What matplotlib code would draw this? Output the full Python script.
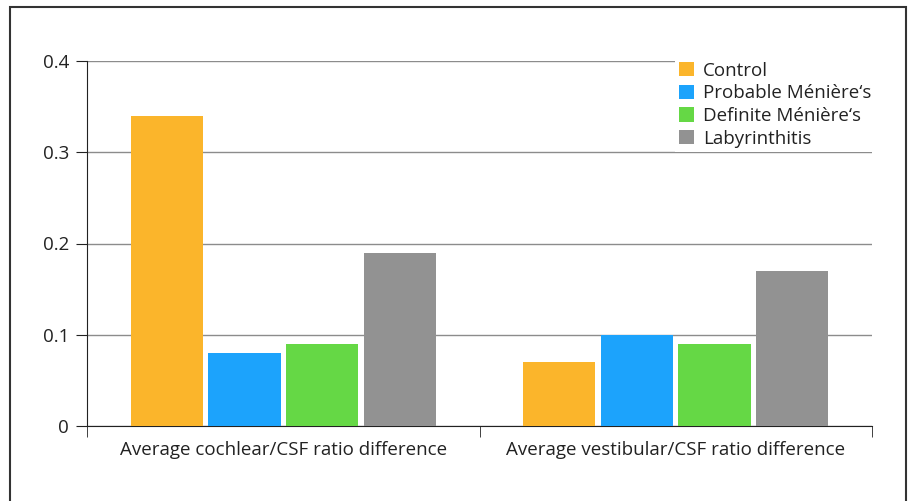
from matplotlib import pyplot as plt
from matplotlib.patches import Rectangle
import numpy as np

plt.rcParams['font.family'] = ['Open Sans', 'DejaVu Sans']

categories = ['Average cochlear/CSF ratio difference', 'Average vestibular/CSF ratio difference']
groups = ['Control', 'Probable Ménière‘s', 'Definite Ménière‘s', 'Labyrinthitis']
control = [0.34, 0.07]
probable = [0.08, 0.10]
definite = [0.09, 0.09]
labyrinthitis = [0.19, 0.17]
colours = ['#FBB52B', '#1CA3FC', '#65D845', '#929292']

fig = plt.figure(figsize=(9.09, 5.01), dpi=100)
ax = fig.add_axes([87 / 909, 75 / 501, 785 / 909, 365 / 501])

# outer frame, open at the bottom
fig.patches.append(Rectangle((10 / 909, -0.1), 896 / 909, 1.1 - 7 / 501,
                             transform=fig.transFigure, fill=False,
                             edgecolor='#333333', linewidth=1.5))

x = np.arange(len(categories))
width = 0.184
step = 0.198
series = [control, probable, definite, labyrinthitis]
for i in range(0, len(series)):
    ax.bar(x + (i - 1.5) * step, series[i], width, color=colours[i],
           label=groups[i], zorder=3)

ax.set_xlim(-0.5, 1.5)
ax.set_ylim(0, 0.4)
ax.set_yticks([0, 0.1, 0.2, 0.3, 0.4])
ax.set_yticklabels(['0', '0.1', '0.2', '0.3', '0.4'])
ax.yaxis.grid(True, color='#8c8c8c', linewidth=1, zorder=0)
ax.set_xticks(x)
ax.set_xticklabels(categories)
ax.set_xticks([-0.5, 0.5, 1.5], minor=True)
ax.tick_params(axis='x', which='major', length=0, pad=11, labelsize=13.5, labelcolor='#222222')
ax.tick_params(axis='x', which='minor', length=8, direction='out', color='#222222')
ax.tick_params(axis='y', length=8, direction='out', pad=5, labelsize=13.5,
               labelcolor='#222222', color='#222222')

for s in ['top', 'right']:
    ax.spines[s].set_visible(False)
for s in ['left', 'bottom']:
    ax.spines[s].set_color('#222222')

leg = ax.legend(loc='upper left', bbox_to_anchor=(675 / 909, 443 / 501),
                bbox_transform=fig.transFigure, frameon=True, fancybox=False,
                edgecolor='white', framealpha=1, fontsize=13.5,
                handlelength=0.8, handleheight=0.8, handletextpad=0.5,
                labelspacing=0.25, borderpad=0.2, borderaxespad=0)
leg.get_frame().set_linewidth(0)
for t in leg.get_texts():
    t.set_color('#222222')

plt.savefig('out.png', dpi=100)
